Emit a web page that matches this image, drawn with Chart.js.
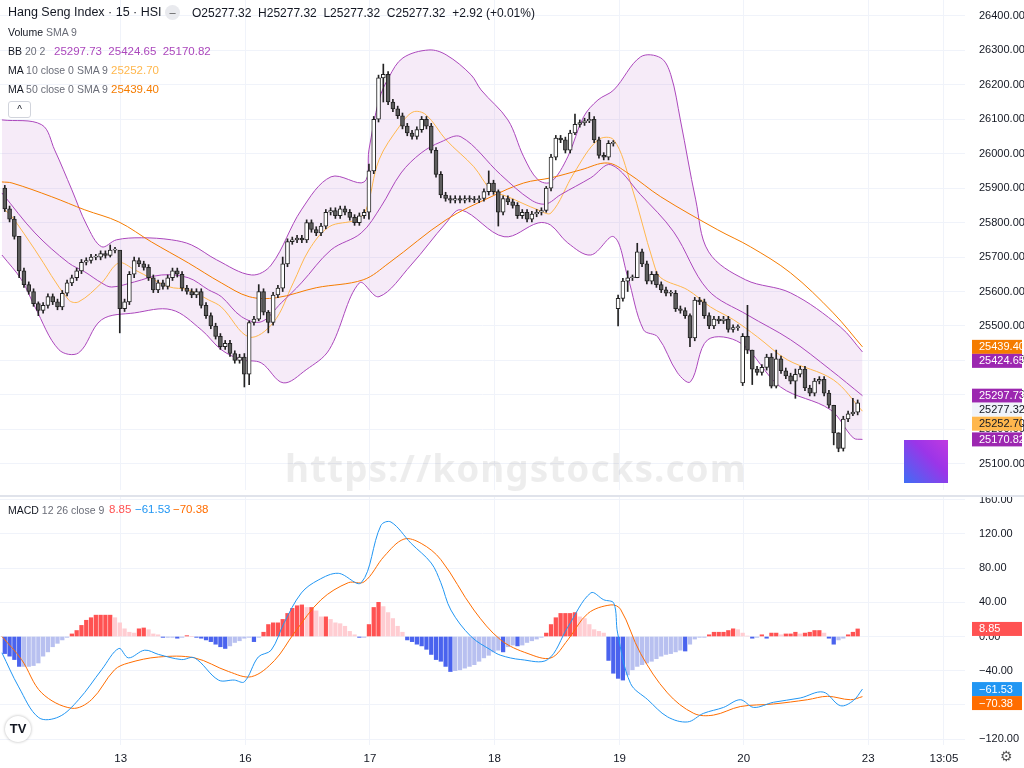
<!DOCTYPE html>
<html><head><meta charset="utf-8">
<script src="https://cdn.jsdelivr.net/npm/chart.js@4.4.0/dist/chart.umd.min.js"></script>
<style>
body{margin:0;width:1024px;height:768px;overflow:hidden;background:#fff;font-family:"Liberation Sans",Arial,sans-serif;position:relative}
#top{position:absolute;left:0;top:0;width:1024px;height:496px}
#bot{position:absolute;left:0;top:497px;width:1024px;height:271px}
.t{position:absolute;white-space:nowrap;font-size:10.5px;color:#131722}
.g{color:#6a6d78}
#sep{position:absolute;left:0;top:495px;width:1024px;height:2px;background:#e0e3eb}
#wm{position:absolute;left:285px;top:442px;font:bold 37px "Noto Sans",sans-serif;color:rgba(0,0,0,0.07);letter-spacing:1px}
#logo{position:absolute;left:904px;top:440px;width:44px;height:43px;background:linear-gradient(45deg,#3f6df5,#9b35e8 60%,#c03ae0)}
#btn{position:absolute;left:8px;top:101px;width:21px;height:15px;border:1px solid #d1d4dc;border-radius:3px;font-size:10px;text-align:center;line-height:15px;color:#131722}
#tv{position:absolute;left:5px;top:716px;width:26px;height:26px;border-radius:13px;background:#fff;box-shadow:0 0 3px rgba(0,0,0,0.3);font:bold 13px "Liberation Sans";text-align:center;line-height:26px;color:#131722}
</style></head><body>
<div id="top"><canvas id="c1"></canvas></div>
<div id="sep"></div>
<div id="bot"><canvas id="c2"></canvas></div>
<div id="wm">https://kongstocks.com</div>
<div id="logo"></div>
<div class="t" style="left:8px;top:5px;font-size:12.5px">Hang Seng Index · 15 · HSI</div>
<div class="t" style="left:165px;top:5px;width:15px;height:15px;border-radius:8px;background:#e9eaee;text-align:center;line-height:14px;font-size:11px;color:#555">–</div>
<div class="t" style="left:192px;top:6px;font-size:12px">O25277.32&nbsp; H25277.32&nbsp; L25277.32&nbsp; C25277.32&nbsp; +2.92 (+0.01%)</div>
<div class="t" style="left:8px;top:26px">Volume <span class="g">SMA 9</span></div>
<div class="t" style="left:8px;top:45px">BB <span class="g">20 2</span></div>
<div class="t" style="left:54px;top:45px;font-size:11.5px;color:#ab47bc">25297.73&nbsp; 25424.65&nbsp; 25170.82</div>
<div class="t" style="left:8px;top:64px">MA <span class="g">10 close 0 SMA 9</span></div>
<div class="t" style="left:111px;top:64px;font-size:11.5px;color:#ffb74d">25252.70</div>
<div class="t" style="left:8px;top:83px">MA <span class="g">50 close 0 SMA 9</span></div>
<div class="t" style="left:111px;top:83px;font-size:11.5px;color:#f57c00">25439.40</div>
<div id="btn">^</div>
<div class="t" style="left:8px;top:504px">MACD <span class="g">12 26 close 9</span></div>
<div class="t" style="left:109px;top:503px;font-size:11.5px;color:#ff5252">8.85</div>
<div class="t" style="left:135px;top:503px;font-size:11.5px;color:#2196f3">−61.53</div>
<div class="t" style="left:173px;top:503px;font-size:11.5px;color:#ff6d00">−70.38</div>
<div id="tv">TV</div>
<div class="t" style="left:1000px;top:748px;font-size:14px;color:#555">⚙</div>
<script>
// ---- data ----
const dayTicks = [24.2, 50.2, 76.2, 102.2, 128.3, 154.2, 180.2, 196];
const dayLabels = ["13", "16", "17", "18", "19", "20", "23", "13:05"];
const priceTicks = [25100,25200,25300,25400,25500,25600,25700,25800,25900,26000,26100,26200,26300,26400];
const macdTicks = [-120,-80,-40,0,40,80,120,160];
const closes = [
25840,25810,25760,25660,25620,25600,25565,25545,25560,25585,25570,25555,25595,25625,25640,25660,25685,25690,25700,25700,25710,25705,25720,25720,
25550,25570,25650,25690,25680,25670,25640,25605,25625,25615,25640,25660,25650,25610,25600,25590,25600,25560,25530,25500,25470,25440,25450,25420,25400,25410,
25360,25510,25520,25600,25540,25510,25590,25610,25680,25745,25750,25755,25750,25800,25780,25770,25790,25830,25835,25820,25840,25830,25815,25800,25820,25830,
25950,26100,26220,26230,26150,26130,26110,26080,26060,26050,26070,26100,26080,26010,25940,25880,25870,25865,25870,25865,25870,25868,25866,25870,25890,25915,
25890,25830,25870,25860,25850,25820,25830,25810,25825,25830,25835,25900,25990,26045,26040,26010,26060,26085,26090,26095,26100,26040,25995,25990,26030,26030,
25580,25630,25640,25640,25715,25680,25630,25650,25620,25605,25595,25595,25550,25545,25530,25465,25575,25570,25530,25500,25520,25515,25520,25490,25495,25495,
25470,25430,25375,25365,25380,25410,25325,25405,25370,25355,25340,25360,25375,25320,25305,25340,25345,25305,25270,25190,25145,25230,25245,25250,25277.32];
const firstOpen = 25900;
const gapOpens = {128: 25550, 154: 25335};
const wicks = {3:[25760,25640],7:[25570,25530],22:[25735,25700],24:[25670,25480],27:[25700,25640],50:[25420,25323],51:[25515,25330],53:[25620,25515],55:[25545,25480],58:[25700,25600],
76:[25970,25810],79:[26260,26150],101:[25950,25880],103:[25895,25790],113:[25905,25830],119:[26115,26055],122:[26120,26090],128:[25590,25500],130:[25660,25600],132:[25740,25640],
143:[25535,25440],155:[25560,25420],156:[25430,25330],160:[25420,25320],161:[25430,25320],165:[25375,25290],173:[25270,25155],174:[25190,25135],177:[25290,25240]};
const bbUpper = [[-0.6,26098],[7.7,26084],[10.4,26011],[14,25895],[17.1,25793],[20.2,25730],[23.3,25750],[28.5,25756],[34.8,25750],[39,25735],[44.2,25692],[51.5,25648],[55.6,25677],[61.9,25837],[68.1,25933],[75,25918],[76,26011],[78.1,26156],[80.2,26223],[83.1,26278],[88.5,26301],[92.1,26287],[97.3,26229],[99.4,26185],[105,26098],[108.3,25991],[111.3,25924],[114,25918],[117.5,25991],[120.8,26107],[123.8,26156],[127.1,26185],[132.7,26281],[136.9,26278],[139,26229],[141,26098],[144.2,25866],[146.9,25715],[154.6,25634],[164,25596],[174.4,25497],[179,25424.65]];
const bbMiddle = [[-0.6,25886],[6.3,25770],[13.3,25683],[16.7,25657],[20.2,25625],[22.3,25613],[27.1,25628],[32.7,25648],[38.3,25640],[42.5,25605],[45.2,25585],[49.4,25527],[53.5,25512],[57.7,25567],[61.9,25625],[68.1,25721],[74.4,25770],[78.5,25846],[82.7,25944],[86.9,26002],[91,26034],[95.2,26049],[103.5,25939],[109.8,25866],[112.9,25854],[116,25881],[122.3,25930],[126.5,25968],[132.7,25881],[139.6,25773],[146.7,25605],[155,25532],[164,25460],[172.3,25373],[179,25297.73]];
const bbLower = [[-0.6,25706],[3.5,25634],[6.3,25555],[11.3,25431],[15.4,25422],[20.2,25518],[27.1,25538],[34.8,25547],[41,25489],[45.2,25431],[49.4,25402],[53.5,25393],[58.1,25335],[62.9,25373],[67.7,25431],[74,25625],[78.1,25585],[84.8,25677],[92.1,25799],[95.2,25837],[104.2,25759],[111.3,25799],[113.9,25793],[117.5,25741],[122.3,25706],[127.1,25759],[130,25643],[133.3,25489],[136.3,25468],[140.4,25364],[143.1,25338],[146.7,25460],[153.5,25451],[161.9,25323],[172.3,25257],[177.1,25175],[179,25170.82]];
const ma10 = [[0,25837],[1.5,25817],[6.3,25721],[13.3,25576],[15.4,25570],[20.2,25625],[23.8,25683],[27.1,25663],[34.2,25614],[38.3,25605],[42.5,25576],[45.2,25555],[51,25468],[56,25509],[60.2,25625],[63.5,25721],[67.7,25788],[73.3,25808],[75.4,25837],[78.1,25982],[82.3,26078],[85.2,26121],[87.9,26113],[92.1,26040],[97.9,25962],[101.5,25895],[105,25875],[111.3,25837],[114,25828],[118.8,25944],[123.8,26040],[127.1,26040],[130.6,25915],[135.4,25683],[136.9,25640],[142.5,25605],[147.3,25555],[152.1,25518],[157.1,25468],[163.3,25402],[172.9,25344],[179,25252.70]];
const ma50 = [[-0.6,25918],[1.5,25915],[9.8,25875],[16.7,25837],[23.8,25802],[30.6,25744],[38.3,25683],[45.2,25625],[51,25585],[56.7,25582],[65,25611],[74.8,25634],[80.2,25683],[92.1,25808],[101.5,25875],[108.3,25915],[114,25930],[120.2,25953],[125.8,25973],[130,25944],[136.9,25875],[148.8,25779],[155.6,25730],[164,25654],[172.9,25538],[179,25439.40]];
const macdLine = [[-0.6,-19],[2.9,-59],[7.1,-95],[11.3,-94],[15.4,-74],[20.2,-39],[23.8,-14],[25.8,-25],[29.2,-16],[32.1,-21],[36.9,-27],[39.6,-25],[44.6,-51],[47.9,-51],[50,-53],[52.9,-24],[55.6,-16],[58.3,16],[61.9,51],[65.4,66],[69.6,74],[74.4,63],[78.5,130],[80.6,134],[84.8,109],[89,86],[91,63],[93.1,31],[97.3,0],[101.5,-16],[103.5,-22],[107.7,-27],[113.3,-27],[117.5,11],[122.3,51],[125,43],[127.1,39],[127.9,4],[130.6,-55],[134.2,-74],[138.3,-94],[142.5,-100],[145.8,-90],[150,-83],[153.5,-74],[156.3,-83],[160.4,-77],[166,-72],[170.8,-65],[174.4,-81],[177.1,-75],[179,-61.53]];
const signalLine = [[-0.6,0],[3.5,-27],[7.7,-66],[14,-84],[18.1,-74],[22.9,-39],[25.8,-31],[32.1,-24],[39.6,-25],[46.7,-41],[51.5,-47],[56.3,-28],[60.4,4],[66,43],[71.7,63],[75,64],[79.2,94],[83.3,114],[86.9,109],[91,90],[97.9,31],[103.5,-4],[109.2,-20],[114,-25],[117.5,-4],[121.7,27],[126.5,37],[128.5,32],[132.7,-20],[138.3,-66],[143.8,-90],[147.9,-92],[153.5,-82],[160.4,-79],[167.5,-74],[171.7,-70],[176.5,-74],[179,-70.38]];
const hist = [
-20,-23,-27,-35,-35,-35,-34,-31,-23,-18,-12,-8,-4,-1,3,7,13,19,22,25,25,25,25,22,16,9,5,4,9,10,
8,3,2,-1,-1,-1,-2,-1,1,0,-1,-2,-4,-6,-9,-12,-14,-11,-7,-5,-2,-1,-6,-1,5,14,16,16,20,27,
33,36,37,34,34,30,23,23,20,16,15,12,6,2,-1,-1,14,34,40,35,28,21,12,5,-4,-6,-9,-11,-15,-21,
-27,-29,-35,-41,-40,-39,-37,-35,-33,-29,-25,-22,-18,-16,-18,-12,-10,-11,-10,-7,-5,-3,-1,4,14,22,27,27,27,28,23,
21,14,8,6,4,-28,-43,-49,-51,-45,-39,-35,-33,-31,-29,-26,-23,-21,-20,-18,-16,-17,-9,-3,-1,-1,2,5,5,5,
7,9,8,4,0.5,-2,-1,2,-2,4,4,2,3,3,5,3,4,5,7,7,4,-2,-9,-4,-2,2,5,8.85];
const topTags = [[25439.40,'#f57c00','#fff'],[25424.65,'#9c27b0','#fff'],[25297.73,'#9c27b0','#fff'],[25277.32,'#f0f3fa','#131722'],[25252.70,'#ffb74d','#131722'],[25170.82,'#9c27b0','#fff']];
const botTags = [[8.85,'#ff5252','#fff'],[-61.53,'#2196f3','#fff'],[-70.38,'#ff6d00','#fff']];

// ---- build ----
const opens = closes.map((c,i)=> gapOpens[i]!==undefined ? gapOpens[i] : (i===0?firstOpen:closes[i-1]));
const body=[], wick=[], bodyCol=[];
closes.forEach((c,i)=>{
  const o=opens[i], w=wicks[i];
  const hi = w?w[0]:Math.max(o,c)+8, lo = w?w[1]:Math.min(o,c)-8;
  wick.push({x:i,y:[lo,hi]});
  body.push({x:i,y:[Math.min(o,c),Math.max(o,c)]});
  bodyCol.push(c>=o?'#ffffff':'#5d5d5d');
});
const pts = a=>a.map(p=>({x:p[0],y:p[1]}));
const histCol = hist.map((h,i)=>{const p=i?hist[i-1]:0; return h>=0?(h>=p?'#ff5252':'#ffcdd2'):(h<p?'#4a63ee':'#b8c0f0');});
const fmt2=v=>(v<0?'−':'')+Math.abs(v).toFixed(2);

Chart.defaults.font.family='"Liberation Sans", Arial, sans-serif';
Chart.defaults.font.size=11;
Chart.defaults.color='#131722';
Chart.defaults.animation=false;

function xScale(showLabels){
  return {type:'linear',min:-1,max:200.4,offset:false,
    afterBuildTicks:s=>{s.ticks=dayTicks.map(v=>({value:v}));},
    afterFit:s=>{s.height=showLabels?23:0;},
    ticks:{display:showLabels,autoSkip:false,maxRotation:0,padding:7,font:{size:11.5},callback:(v,i)=>dayLabels[i]},
    grid:{color:'#f0f3fa',drawTicks:false,offset:false},border:{display:false}};
}
function yScale(min,max,ticks){
  return {position:'right',min,max,
    afterBuildTicks:s=>{s.ticks=ticks.map(v=>({value:v}));},
    afterFit:s=>{s.width=59;},
    ticks:{display:false},
    grid:{color:'#f0f3fa',drawTicks:false},border:{display:false}};
}
function labelPlugin(ticks,tags,fmt){
  return {id:'lbl',afterDraw(ch){
    const y=ch.scales.y, ctx=ch.ctx;
    ctx.save(); ctx.font='11px "Liberation Sans", Arial'; ctx.textBaseline='middle';
    ctx.fillStyle='#131722';
    ticks.forEach(v=>ctx.fillText(fmt(v),979,y.getPixelForValue(v)));
    let items=tags.map(t=>({t,py:y.getPixelForValue(t[0])})).sort((a,b)=>a.py-b.py);
    for(let k=1;k<items.length;k++){ if(items[k].py-items[k-1].py<14) items[k].py=items[k-1].py+14; }
    items.forEach(it=>{
      ctx.fillStyle=it.t[1]; ctx.fillRect(972,it.py-7,50,14);
      ctx.fillStyle=it.t[2]; ctx.fillText(fmt(it.t[0]),979,it.py+0.5);
    });
    ctx.restore();
  }};
}

new Chart(document.getElementById('c1'),{
  data:{datasets:[
    {type:'line',data:pts(bbUpper),borderColor:'#ab47bc',borderWidth:1,pointRadius:0,tension:0.35,fill:false,order:5},
    {type:'line',data:pts(bbLower),borderColor:'#ab47bc',borderWidth:1,pointRadius:0,tension:0.35,fill:{target:0},backgroundColor:'rgba(171,71,188,0.11)',order:5},
    {type:'line',data:pts(bbMiddle),borderColor:'#ab47bc',borderWidth:1,pointRadius:0,tension:0.35,order:4},
    {type:'line',data:pts(ma50),borderColor:'#f57c00',borderWidth:1,pointRadius:0,tension:0.35,order:4},
    {type:'line',data:pts(ma10),borderColor:'#ffb74d',borderWidth:1,pointRadius:0,tension:0.35,order:4},
    {type:'bar',data:wick,backgroundColor:'#222',barThickness:1,grouped:false,order:2},
    {type:'bar',data:body,backgroundColor:bodyCol,borderColor:'#222',borderWidth:1,borderSkipped:false,barThickness:4,minBarLength:1,grouped:false,order:1}
  ]},
  options:{responsive:true,maintainAspectRatio:false,layout:{padding:{top:0,bottom:6,left:0,right:0}},
    plugins:{legend:{display:false},tooltip:{enabled:false}},
    scales:{x:xScale(false),y:yScale(25024,26446,priceTicks)}},
  plugins:[labelPlugin(priceTicks,topTags,v=>v.toFixed(2))]
});

new Chart(document.getElementById('c2'),{
  data:{datasets:[
    {type:'line',data:pts(macdLine),borderColor:'#2196f3',borderWidth:1,pointRadius:0,tension:0.35,order:1},
    {type:'line',data:pts(signalLine),borderColor:'#ff6d00',borderWidth:1,pointRadius:0,tension:0.35,order:1},
    {type:'bar',data:hist.map((h,i)=>({x:i,y:h})),backgroundColor:histCol,barThickness:3.6,grouped:false,order:2}
  ]},
  options:{responsive:true,maintainAspectRatio:false,layout:{padding:0},
    plugins:{legend:{display:false},tooltip:{enabled:false}},
    scales:{x:xScale(true),y:yScale(-127,163.3,macdTicks)}},
  plugins:[labelPlugin(macdTicks,botTags,fmt2)]
});
</script>
</body></html>
